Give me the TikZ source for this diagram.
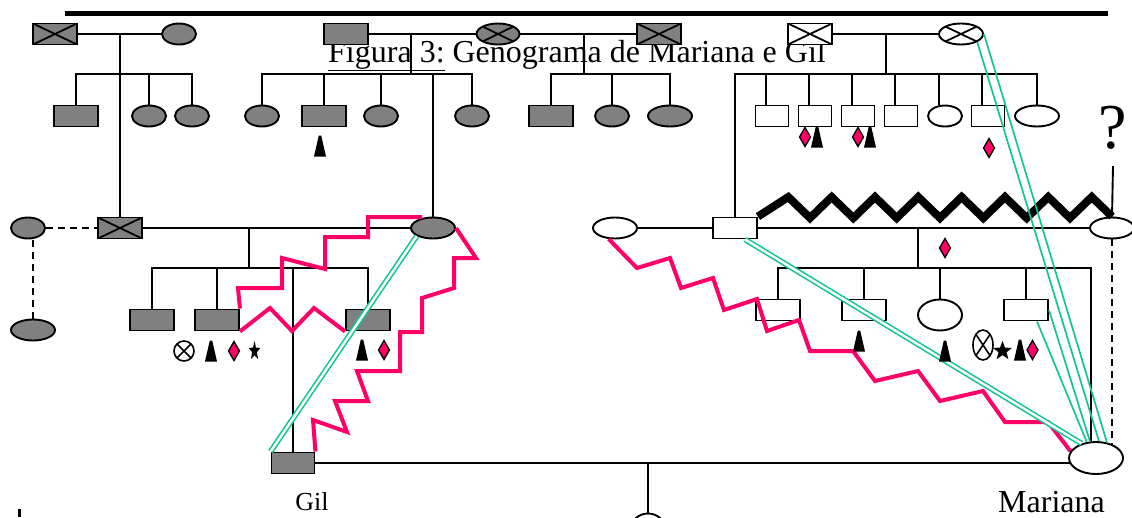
\documentclass[tikz,border=0pt]{standalone}
\usepackage{fontspec}
\setmainfont{Liberation Serif}
\usetikzlibrary{shapes.geometric}
\pgfdeclarelayer{bg}
\pgfsetlayers{bg,main}
\definecolor{grp}{RGB}{128,128,128}
\definecolor{conflict}{RGB}{255,0,102}
\definecolor{bond}{RGB}{20,196,148}
\tikzset{
  x=1pt, y=-1pt,
  person/.style={draw, line width=1.9pt, inner sep=0pt, minimum height=21pt},
  gmale/.style={person, rectangle, fill=grp, minimum width=44pt},
  gfem/.style={person, ellipse, fill=grp, minimum width=34pt},
  wmale/.style={person, rectangle, fill=white, minimum width=33pt},
  wfem/.style={person, ellipse, fill=white, minimum width=34pt},
  dead/.style={path picture={\draw[line width=1.8pt]
      (path picture bounding box.north west) -- (path picture bounding box.south east)
      (path picture bounding box.south west) -- (path picture bounding box.north east);}},
  tie/.style={line width=1.9pt},
  loose/.style={tie, dash pattern=on 7pt off 5pt},
  conflictline/.style={draw=conflict, line width=4pt},
  cutoff/.style={line width=8pt},
  closeline/.style={draw=bond, double=white, line width=1.6pt, double distance=2.4pt},
  bondline/.style={draw=bond, line width=1.7pt},
  namelabel/.style={inner sep=0pt, text depth=0pt},
  symtri/.pic={\fill (-6,10.5) -- (-1.2,-10.5) -- (1.2,-10.5) -- (6,10.5) -- cycle;},
  symdia/.pic={\filldraw[fill=conflict, line width=1.3pt] (0,-9.5) -- (5.5,0) -- (0,9.5) -- (-5.5,0) -- cycle;},
  symstar/.pic={\fill (0,-10) -- (-2.47,-3.4) -- (-9.51,-3.09) -- (-3.99,1.3) -- (-5.88,8.09)
      -- (0,4.2) -- (5.88,8.09) -- (3.99,1.3) -- (9.51,-3.09) -- (2.47,-3.4) -- cycle;},
  symotimes/.pic={\draw[line width=1.6pt] (0,0) circle (10)
      (-7.07,-7.07) -- (7.07,7.07) (-7.07,7.07) -- (7.07,-7.07);},
}
\begin{document}
\begin{tikzpicture}
\useasboundingbox (0,0) rectangle (1132,517);

% header rule and title
\draw[line width=5pt] (65,13) -- (1108,13);
\node[anchor=base west, inner sep=0pt, font=\fontsize{32}{38}\selectfont] (title) at (328,62)
  {\underline{Figura 3:} Genograma de Mariana e Gil};

% generation 1
\node[gmale,dead] (A1) at (55,34) {};
\node[gfem] (A2) at (179,34) {};
\node[gmale] (B1) at (346,34) {};
\node[gfem,dead,minimum width=43pt] (B2) at (498,34) {};
\node[gmale,dead] (B3) at (659,34) {};
\node[wmale,dead,minimum width=44pt] (C1) at (810,34) {};
\node[wfem,dead,minimum width=44pt] (C2) at (961,34) {};

% generation 2
\node[gmale] (a1) at (76,116) {};
\node[gfem] (a2) at (149,116) {};
\node[gfem] (a3) at (192,116) {};
\node[gfem] (b1) at (262,116) {};
\node[gmale] (b2) at (324,116) {};
\node[gfem] (b3) at (381,116) {};
\node[gfem] (b4) at (472,116) {};
\node[gmale] (d1) at (551,116) {};
\node[gfem] (d2) at (612,116) {};
\node[gfem,minimum width=44pt] (d3) at (670,116) {};
\node[wmale] (c1) at (772,116) {};
\node[wmale] (c2) at (815,116) {};
\node[wmale] (c3) at (858,116) {};
\node[wmale] (c4) at (901,116) {};
\node[wfem] (c5) at (945,116) {};
\node[wmale] (c6) at (988,116) {};
\node[wfem,minimum width=44pt] (c7) at (1037,116) {};

% generation 3
\node[gfem] (L1) at (28,228) {};
\node[gfem,minimum width=44pt] (L2) at (33,330) {};
\node[gmale,dead] (P1) at (120,228) {};
\node[gfem,minimum width=44pt] (P2) at (433,228) {};
\node[wfem,minimum width=44pt] (Q0) at (615,228) {};
\node[wmale,minimum width=44pt] (Q1) at (735,228) {};
\node[wfem,minimum width=44pt] (Q2) at (1112,228) {};

% generation 4
\node[gmale] (e1) at (152,320) {};
\node[gmale] (e2) at (217,320) {};
\node[gmale] (e3) at (368,320) {};
\node[wmale,minimum width=44pt] (f1) at (778,310) {};
\node[wmale,minimum width=44pt] (f2) at (864,310) {};
\node[wfem,minimum width=44pt,minimum height=31pt] (f3) at (940,315) {};
\node[wmale,minimum width=44pt] (f4) at (1026,310) {};
\node[gmale,minimum width=43pt] (G) at (293,463) {};
\node[wfem,minimum width=54pt,minimum height=32pt] (M) at (1096,458) {};
\node[wfem,minimum width=34pt,minimum height=31pt] (K) at (648,529) {};

% unknown father
\node[anchor=base, inner sep=0pt, font=\fontsize{64}{70}\selectfont] (qm) at (1113,148) {?};

% family ties
\begin{pgfonlayer}{bg}
\coordinate (lvA) at (0,74);
\coordinate (lvE) at (0,268);
\draw[tie] (A1) -- (A2);
\draw[tie] (P1.north) -- (P1.north |- A1);
\draw[tie] (a1.north) -- (a1.north |- lvA) -- (a3.north |- lvA) -- (a3.north);
\draw[tie] (a2.north) -- (a2.north |- lvA);

\draw[tie] (B1) -- (B2);
\draw[tie] (B2) -- (B3);
\coordinate (Bd) at (411,34);
\draw[tie] (Bd) -- (Bd |- lvA);
\draw[tie] (b1.north) -- (b1.north |- lvA) -- (b4.north |- lvA) -- (b4.north);
\draw[tie] (b2.north) -- (b2.north |- lvA);
\draw[tie] (b3.north) -- (b3.north |- lvA);
\draw[tie] (P2.north) -- (P2.north |- lvA);

\coordinate (Dd) at (584,34);
\draw[tie] (Dd) -- (Dd |- lvA);
\draw[tie] (d1.north) -- (d1.north |- lvA) -- (d3.north |- lvA) -- (d3.north);
\draw[tie] (d2.north) -- (d2.north |- lvA);

\draw[tie] (C1) -- (C2);
\coordinate (Cd) at (886,34);
\draw[tie] (Cd) -- (Cd |- lvA);
\draw[tie] (Q1.north) -- (Q1.north |- lvA) -- (c7.north |- lvA) -- (c7.north);
\foreach \k in {c1,c2,c3,c4,c5,c6} {
  \path ([xshift=-6pt]\k.north) coordinate (t\k);
  \draw[tie] (t\k) -- (t\k |- lvA);
}

\draw[loose] (L1) -- (P1);
\draw[loose] (L2.north) -- (L2.north |- L1);
\draw[tie] (P1) -- (P2);
\coordinate (Ed) at (249,228);
\draw[tie] (Ed) -- (Ed |- lvE);
\draw[tie] (e1.north) -- (e1.north |- lvE) -- (e3.north |- lvE) -- (e3.north);
\draw[tie] (e2.north) -- (e2.north |- lvE);
\draw[tie] (G.north) -- (G.north |- lvE);

\draw[tie] (Q0) -- (Q1);
\draw[tie] (Q1) -- (Q2);
\coordinate (Fd) at (918,228);
\draw[tie] (Fd) -- (Fd |- lvE);
\coordinate (Mx) at (1091,268);
\draw[tie] (f1.north) -- (f1.north |- lvE) -- (Mx) -- (Mx |- M.north);
\draw[tie] (f2.north) -- (f2.north |- lvE);
\draw[tie] (f3.north) -- (f3.north |- lvE);
\draw[tie] (f4.north) -- (f4.north |- lvE);
\draw[loose] (Q2.south) -- (Q2.south |- M);
\draw[tie] (Q2.north) -- ([yshift=-17pt]qm.south);

\draw[tie] (G) -- (G -| M);
\draw[tie] (K.north) -- (K.north |- G);
\end{pgfonlayer}

% conflictual relationships
\draw[conflictline] (e2.north east) -- (238,288) -- (282,288) -- (282,258) -- (325,269)
  -- (325,237) -- (368,237) -- (368,217) -- (422,217);
\draw[conflictline] (e2.south east) -- (270,308) -- (292,331) -- (314,308) -- (e3.south west);
\draw[conflictline] (P2.east) -- (476,258) -- (454,258) -- (454,288) -- (422,298) -- (422,332)
  -- (400,332) -- (400,371) -- (357,371) -- (368,401) -- (335,401) -- (347,432) -- (313,420)
  -- (G.north east);
\draw[conflictline] (Q0.240) -- (637,268) -- (670,258) -- (681,288) -- (713,278) -- (724,310)
  -- (757,299) -- (767,331) -- (799,320) -- (810,351) -- (853,351) -- (875,381) -- (918,371)
  -- (940,401) -- (983,391) -- (1005,422) -- (1048,422) -- (M.165);

% cut-off
\draw[cutoff] (Q1.north east) foreach \k in {0,...,6} { -- ({788.3+43.33*\k},197) -- ({810+43.33*\k},218) }
  -- (1091.7,197) -- (Q2.north);

% close relationships
\draw[closeline] (P2.south west) -- (G.north west);
\draw[closeline] ([xshift=10pt]Q1.south) -- (M.135);
\draw[bondline] ([xshift=11pt]f4.south) -- (M.120);
\draw[bondline] (f4.east) -- (M.110);
\draw[bondline] (C2.south east) -- (M.80);
\draw[bondline] (C2.east) -- (M.55);

% markers
\pic at (320,146) {symtri};
\pic at (805,137) {symdia};
\pic at (817,137) {symtri};
\pic at (858,137) {symdia};
\pic at (870,137) {symtri};
\pic at (989,148) {symdia};
\pic at (945,248) {symdia};
\pic at (184,351) {symotimes};
\pic at (211,351) {symtri};
\pic at (234,351) {symdia};
\pic[xscale=0.6] at (254.5,351) {symstar};
\pic at (362,350) {symtri};
\pic at (384,350) {symdia};
\pic at (859,341) {symtri};
\pic at (945,351) {symtri};
\pic[yscale=1.5] at (983,345) {symotimes};
\pic at (1002.5,351) {symstar};
\pic at (1020,350) {symtri};
\pic at (1032.5,350) {symdia};

% names
\node[namelabel, anchor=base, font=\fontsize{26}{30}\selectfont] (glab) at (312,510) {Gil};
\node[namelabel, anchor=base west, font=\fontsize{32}{38}\selectfont] (mlab) at (998,512) {Mariana};
\fill (17.5,509) rectangle (20.5,517);
\end{tikzpicture}
\end{document}
